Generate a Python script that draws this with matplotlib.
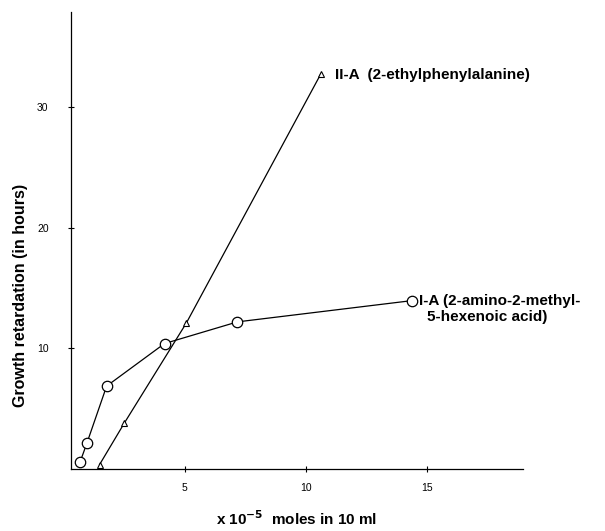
import matplotlib.pyplot as plt

# I-A (2-amino-2-methyl-5-hexenoic acid)
ia_x = [0.67, 0.96, 1.77, 4.16, 7.17, 14.36]
ia_y = [0.55, 2.16, 6.87, 10.4, 12.2, 13.96]

# II-A (2-ethylphenylalanine)
iia_x = [1.48, 2.5, 5.06, 10.62]
iia_y = [0.36, 3.8, 12.1, 32.8]

xticks = [5, 10, 15]
yticks = [10, 20, 30]

plt.rcParams['font.family'] = ['Liberation Sans', 'DejaVu Sans']

fig = plt.figure(figsize=(6.05, 5.31), dpi=100)
ax = fig.add_axes([0.117, 0.117, 0.747, 0.860])

ax.plot(ia_x, ia_y, color="black", lw=0.9, marker="o", ms=7.5,
        mfc="white", mec="black", mew=0.9, zorder=3)
ax.plot(iia_x, iia_y, color="black", lw=0.9, marker="^", ms=5,
        mfc="white", mec="black", mew=0.8, zorder=3)

ax.text(11.2, 32.7, "II-A  (2-ethylphenylalanine)", fontsize=11,
        fontweight="bold", va="center", ha="left")
ax.text(14.65, 13.9, "I-A (2-amino-2-methyl-", fontsize=11,
        fontweight="bold", va="center", ha="left")
ax.text(15.0, 12.6, "5-hexenoic acid)", fontsize=11,
        fontweight="bold", va="center", ha="left")

ax.set_xlim(0.29, 18.95)
ax.set_ylim(0, 37.9)
ax.set_xticks(xticks)
ax.set_yticks(yticks)
ax.tick_params(direction="inout", length=4, width=0.8, labelsize=7.5)
ax.tick_params(axis="x", pad=8)
ax.tick_params(axis="y", pad=14)

for s in ["top", "right"]:
    ax.spines[s].set_visible(False)
for s in ["left", "bottom"]:
    ax.spines[s].set_linewidth(0.9)

ax.set_ylabel("Growth retardation (in hours)", fontsize=11.5, fontweight="bold")
ax.yaxis.set_label_coords(-0.095, 0.38)
ax.set_xlabel(r"x 10$^{\mathbf{-5}}$  moles in 10 ml", fontsize=11, fontweight="bold",
              va="center")
ax.xaxis.set_label_coords(0.5, -0.11)

fig.savefig("out.png", dpi=100)
